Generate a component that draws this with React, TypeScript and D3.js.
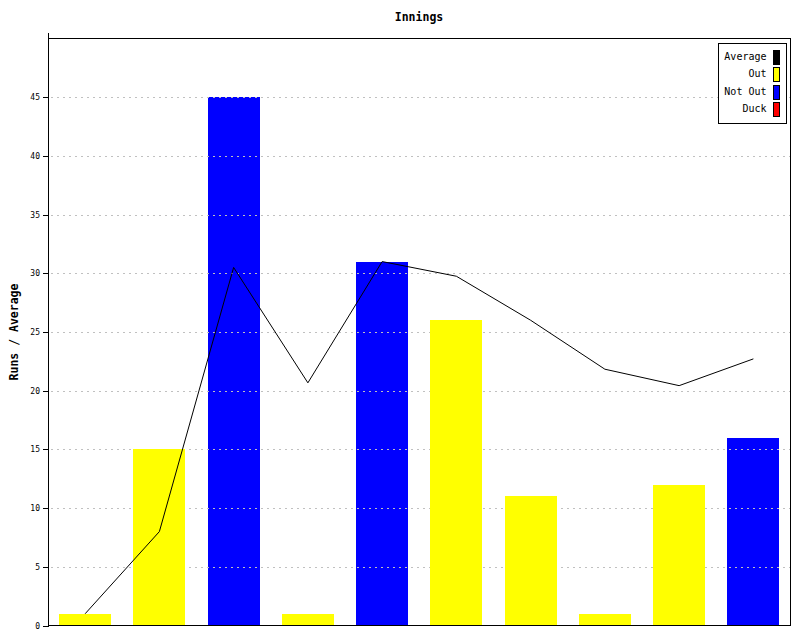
import React from "react";
import * as d3 from "d3";

const innings = ["1", "2", "3", "4", "5", "6", "7", "8", "9", "10"];
const runs = [1, 15, 45, 1, 31, 26, 11, 1, 12, 16];
const status = ["Out", "Out", "Not Out", "Out", "Not Out", "Out", "Out", "Out", "Out", "Not Out"];
const average = [1, 8, 30.5, 20.67, 31, 29.75, 26, 21.83, 20.43, 22.71];
const yTicks = [0, 5, 10, 15, 20, 25, 30, 35, 40, 45];
const legendItems = ["Average", "Out", "Not Out", "Duck"];
const legendColors = ["#000000", "#ffff00", "#0000ff", "#ff0000"];
const statusColors: Record<string, string> = { Out: "#ffff00", "Not Out": "#0000ff", Duck: "#ff0000" };

const W = 800, H = 640;
const L = 48.5, R = 790.5, T = 38.5, B = 625.5;
const mono = "'DejaVu Sans Mono', monospace";

export default function App() {
  const x = d3.scaleBand<string>().domain(innings).range([L - 0.5, R]).paddingInner(0.3).paddingOuter(0.15);
  const y = d3.scaleLinear().domain([0, 50]).range([B, T]);
  const line = d3.line<number>().x((_, i) => (x(innings[i]) as number) + x.bandwidth() / 2).y((d) => y(d));

  const bars = (kind: (s: string) => boolean) =>
    runs.map((r, i) =>
      kind(status[i]) ? (
        <rect key={i} x={x(innings[i])} y={y(r)} width={x.bandwidth()} height={B - y(r)} fill={statusColors[status[i]]} shapeRendering="crispEdges" />
      ) : null
    );

  return (
    <svg width={W} height={H} style={{ position: "absolute", left: 0, top: 0, background: "#fff" }}>
      <rect x={0} y={0} width={W} height={H} fill="#fff" />
      {bars((s) => s === "Not Out")}
      {yTicks.filter((t) => t > 0).map((t) => (
        <line key={t} x1={L + 2} x2={R} y1={Math.round(y(t)) + 0.5} y2={Math.round(y(t)) + 0.5} stroke="#c0c0c0" strokeDasharray="2,4" shapeRendering="crispEdges" />
      ))}
      {bars((s) => s !== "Not Out")}
      {/* frame */}
      <line x1={L} x2={R} y1={T} y2={T} stroke="#000" shapeRendering="crispEdges" />
      <line x1={R} x2={R} y1={T} y2={B} stroke="#000" shapeRendering="crispEdges" />
      <line x1={L} x2={L} y1={33} y2={B} stroke="#000" shapeRendering="crispEdges" />
      <line x1={L} x2={R} y1={B} y2={B} stroke="#000" shapeRendering="crispEdges" />
      {yTicks.map((t) => (
        <g key={t}>
          <line x1={43} x2={L} y1={Math.round(y(t)) + 0.5} y2={Math.round(y(t)) + 0.5} stroke="#000" shapeRendering="crispEdges" />
          <text x={40} y={y(t) + 3} fontFamily={mono} fontSize={8} textAnchor="end" fill="#000">{t}</text>
        </g>
      ))}
      <path d={line(average) || ""} fill="none" stroke="#000" strokeWidth={1} />
      <text x={419} y={21} fontFamily={mono} fontSize={11.5} fontWeight="bold" textAnchor="middle">Innings</text>
      <text transform={`translate(17.5,${(T + B) / 2}) rotate(-90)`} fontFamily={mono} fontSize={11.5} fontWeight="bold" textAnchor="middle">Runs / Average</text>
      {/* legend */}
      <rect x={718.5} y={43.5} width={68} height={80} fill="#fff" stroke="#000" shapeRendering="crispEdges" />
      {legendItems.map((name, i) => (
        <g key={name}>
          <text x={766.5} y={60 + i * 17.3} fontFamily={mono} fontSize={10} textAnchor="end" fill="#000">{name}</text>
          <rect x={773.5} y={50.5 + i * 17.3} width={6} height={14} fill={legendColors[i]} stroke="#000" shapeRendering="crispEdges" />
        </g>
      ))}
    </svg>
  );
}
